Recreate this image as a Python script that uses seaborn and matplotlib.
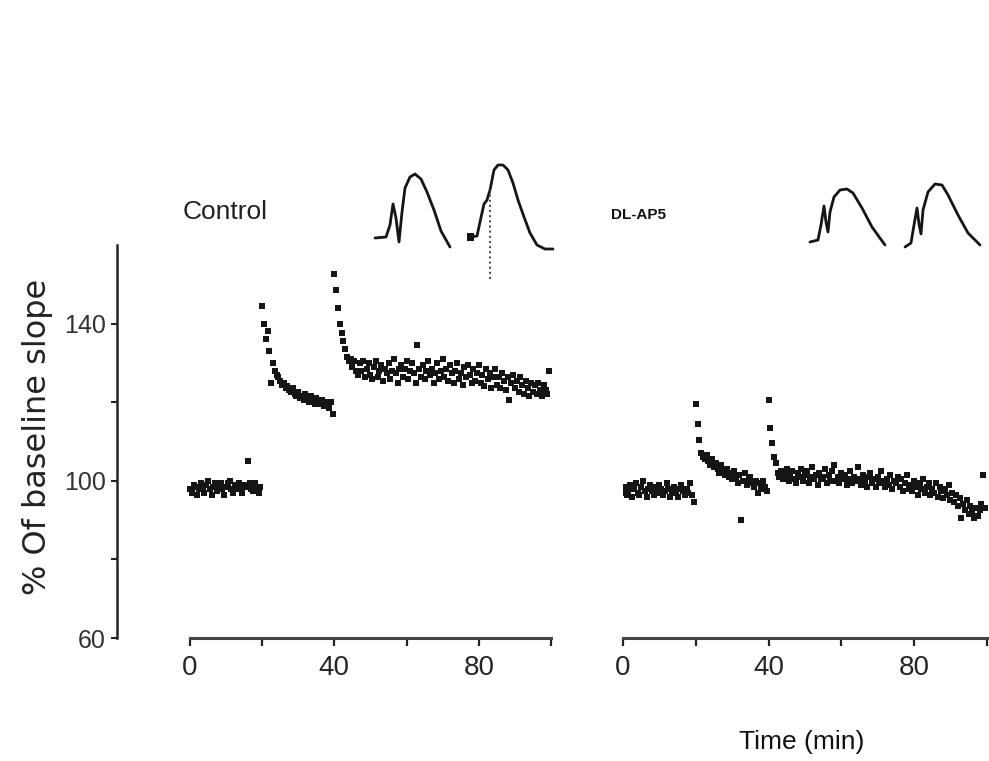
import numpy as np
import pandas as pd
import seaborn as sns
import matplotlib.pyplot as plt
from matplotlib import font_manager as fm
from matplotlib.ticker import FixedLocator, NullFormatter

ctrl_base = [98.0, 97.0, 99.0, 98.5, 96.5, 98.0, 99.5, 98.5, 97.0, 99.0,
             100.0, 98.0, 96.5, 98.5, 99.5, 97.5, 98.5, 99.5, 98.0, 96.5,
             98.5, 99.5, 100.0, 98.0, 97.0, 99.0, 98.0, 99.5, 98.5, 97.0,
             99.0, 98.5, 105.0, 99.5, 98.0, 97.5, 99.5, 98.5, 97.0, 98.5]
ctrl_tet1 = [144.5, 140.0, 136.0, 138.0, 133.0, 125.0, 130.0, 128.0, 127.0, 126.5,
             125.5, 124.5, 125.0, 123.5, 124.0, 123.0, 122.5, 123.5, 122.0, 121.5,
             122.5, 121.0, 121.5, 120.5, 122.0, 121.0, 120.0, 121.5, 120.5, 119.5,
             121.0, 120.0, 119.5, 120.5, 119.0, 120.0, 119.5, 118.5, 120.0, 117.0]
ctrl_tet2 = [152.5, 148.5, 144.0, 140.0, 137.5, 135.5, 133.5, 131.5, 130.5, 131.0,
             129.0, 130.5, 128.0, 127.0, 130.0, 128.0, 130.5, 126.5, 128.5, 130.0,
             127.0, 126.0, 129.0, 130.5, 126.5, 128.0, 129.5, 125.5, 128.5, 127.5,
             130.0, 126.0, 128.0, 131.0, 127.5, 125.0, 128.5, 129.5, 126.5, 128.5,
             130.5, 126.0, 128.0, 130.0, 127.5, 125.0, 134.5, 128.5, 126.5, 129.5,
             126.0, 128.0, 130.5, 127.0, 128.5, 125.0, 127.5, 130.0, 126.0, 128.0,
             131.0, 126.5, 128.5, 125.5, 129.5, 127.5, 125.0, 128.0, 130.0, 126.0,
             127.5, 124.5, 129.0, 126.5, 129.5, 127.0, 125.0, 128.5, 125.5, 127.5,
             129.5, 125.0, 127.0, 124.0, 128.5, 126.0, 127.5, 123.5, 126.5, 128.5,
             124.5, 126.5, 123.5, 127.5, 125.5, 123.0, 126.5, 120.5, 125.0, 127.0,
             123.5, 125.5, 122.5, 126.5, 124.5, 122.0, 125.5, 123.5, 121.5, 125.0,
             122.5, 124.5, 122.0, 125.0, 123.0, 121.5, 124.5, 123.0, 122.0, 128.0]

ap5_base = [97.0, 98.5, 96.5, 97.5, 99.0, 96.0, 98.0, 99.5, 97.0, 96.5,
            98.5, 100.0, 97.5, 96.0, 98.0, 99.0, 97.5, 96.5, 98.5, 97.0,
            99.0, 98.0, 96.5, 97.5, 99.5, 98.0, 96.0, 97.5, 98.5, 97.0,
            96.0, 98.0, 99.0, 97.5, 96.5, 98.0, 97.0, 99.5, 96.5, 94.5]
ap5_tet1 = [119.5, 114.5, 110.5, 107.0, 106.0, 105.5, 106.5, 105.0, 104.0, 105.5,
            103.5, 104.5, 103.0, 102.0, 104.0, 102.5, 101.5, 103.0, 101.0, 102.0,
            100.5, 102.5, 101.0, 99.5, 101.5, 90.0, 100.0, 102.0, 99.0, 100.5,
            101.0, 99.5, 98.5, 100.0, 97.0, 99.5, 98.0, 100.0, 98.5, 97.5]
ap5_tet2 = [120.5, 113.5, 109.5, 106.0, 104.5, 102.0, 101.0, 102.5, 100.5, 101.5,
            103.0, 100.0, 101.5, 102.5, 100.5, 99.5, 102.0, 101.0, 103.0, 100.0,
            101.5, 102.5, 99.5, 101.0, 103.5, 100.5, 101.5, 99.0, 102.0, 100.5,
            101.0, 103.0, 99.5, 101.5, 100.0, 102.5, 104.0, 100.0, 101.0, 99.5,
            102.0, 100.5, 101.5, 99.0, 100.5, 102.5, 99.5, 101.0, 100.0, 103.5,
            100.5, 99.0, 101.5, 100.0, 98.5, 101.0, 102.0, 99.5, 100.5, 98.5,
            101.0, 99.5, 102.5, 100.0, 98.5, 100.5, 99.0, 101.5, 98.0, 100.0,
            99.5, 101.0, 98.5, 100.5, 97.5, 99.5, 101.5, 98.0, 99.0, 97.5,
            100.0, 98.5, 96.5, 99.5, 98.0, 100.5, 97.0, 98.5, 99.5, 96.5,
            98.0, 97.0, 99.5, 96.0, 98.5, 97.5, 95.5, 98.0, 96.5, 99.0,
            95.0, 97.0, 94.5, 96.5, 93.5, 95.5, 90.5, 94.0, 92.5, 95.0,
            91.5, 93.5, 92.0, 90.5, 93.0, 91.0, 92.5, 94.0, 101.5, 93.0]

time_min = np.arange(0, 100, 0.5)

# field potential traces (ms, mV) drawn above each panel
ctrl_pre_t = [0.3, 1.4, 1.8, 2.1, 2.4, 2.7, 3.0, 3.3, 3.8, 4.3, 4.9, 5.5, 6.2, 6.9, 7.8]
ctrl_pre_v = [1.7, 1.8, 3.0, 5.1, 3.7, 1.3, 4.3, 6.7, 7.8, 8.1, 7.6, 6.3, 4.5, 2.4, 0.8]
ctrl_post_t = [0.3, 1.0, 1.3, 1.7, 2.0, 2.3, 2.7, 3.1, 3.6, 4.1, 4.6, 5.1, 5.7, 6.3, 7.0, 7.8, 8.6]
ctrl_post_v = [1.8, 1.9, 3.3, 5.1, 5.5, 6.5, 8.5, 9.0, 9.0, 8.5, 7.2, 5.5, 3.8, 2.2, 1.0, 0.6, 0.6]
probe_t = [2.3, 2.3]
probe_v = [-2.4, 6.5]
ap5_pre_t = [0.5, 1.3, 1.6, 1.9, 2.1, 2.3, 2.5, 2.9, 3.5, 4.2, 4.8, 5.7, 6.7, 8.0]
ap5_pre_v = [1.3, 1.5, 3.0, 4.9, 3.3, 2.3, 4.3, 5.8, 6.5, 6.6, 6.2, 4.7, 2.8, 1.0]
ap5_post_t = [0.5, 1.1, 1.4, 1.7, 1.9, 2.1, 2.3, 2.8, 3.5, 4.2, 4.8, 5.8, 6.8, 8.0]
ap5_post_v = [0.8, 1.2, 3.0, 4.7, 3.1, 2.1, 4.5, 6.3, 7.1, 7.0, 6.0, 4.0, 2.2, 1.0]

ctrl = pd.DataFrame({'time': time_min, 'slope': ctrl_base + ctrl_tet1 + ctrl_tet2})
ap5 = pd.DataFrame({'time': time_min, 'slope': ap5_base + ap5_tet1 + ap5_tet2})

sns.set_style('ticks')
names = {f.name for f in fm.fontManager.ttflist}
narrow = 'Liberation Sans Narrow' if 'Liberation Sans Narrow' in names else 'Liberation Sans'
plt.rcParams['font.family'] = ['Liberation Sans', 'DejaVu Sans']

W, H = 989, 761
fig = plt.figure(figsize=(W / 100, H / 100), dpi=100)

def box(l, t, r, b):
    return [l / W, (H - b) / H, (r - l) / W, (b - t) / H]

ink = '#151515'
axl = fig.add_axes(box(117, 245, 551, 638))
axr = fig.add_axes(box(623, 245, 989, 638))

sns.scatterplot(data=ctrl, x='time', y='slope', ax=axl, marker='s', s=20,
                color=ink, linewidth=0, legend=False)
sns.scatterplot(data=ap5, x='time', y='slope', ax=axr, marker='s', s=20,
                color=ink, linewidth=0, legend=False)

for ax, xlim in [(axl, (-20.2, 100)), (axr, (0, 100.6))]:
    ax.set_xlim(*xlim)
    ax.set_ylim(60, 160)
    ax.set_facecolor('none')
    ax.set_xlabel('')
    ax.set_ylabel('')
    ax.spines['top'].set_visible(False)
    ax.spines['right'].set_visible(False)
    ax.spines['bottom'].set_bounds(0, 100)
    ax.spines['bottom'].set_linewidth(2.2)
    ax.spines['bottom'].set_color('#444444')
    ax.xaxis.set_major_locator(FixedLocator([0, 40, 80]))
    ax.xaxis.set_minor_locator(FixedLocator([20, 60, 100]))
    ax.xaxis.set_minor_formatter(NullFormatter())
    ax.tick_params(axis='x', which='both', bottom=True, direction='out', length=6,
                   width=1.6, color='#222222', pad=6, labelsize=20)
    for lab in ax.get_xticklabels():
        lab.set_fontfamily(narrow)

axl.spines['left'].set_bounds(60, 160)
axl.spines['left'].set_linewidth(1.8)
axl.spines['left'].set_color('#222222')
axl.yaxis.set_major_locator(FixedLocator([60, 100, 140]))
axl.yaxis.set_minor_locator(FixedLocator([80, 120]))
axl.yaxis.set_minor_formatter(NullFormatter())
axl.tick_params(axis='y', which='both', left=True, direction='out', length=4,
                width=1.5, color='#222222', pad=4, labelsize=18, labelcolor='#333333')
axr.spines['left'].set_visible(False)
axr.set_yticks([])

# traces
traces = [
    ((372, 155, 462, 280), ctrl_pre_t, ctrl_pre_v),
    ((467, 155, 557, 280), ctrl_post_t, ctrl_post_v),
    ((805, 155, 895, 280), ap5_pre_t, ap5_pre_v),
    ((900, 155, 989, 280), ap5_post_t, ap5_post_v),
]
for (l, t, r, b), tx, ty in traces:
    ins = fig.add_axes(box(l, t, r, b))
    sns.lineplot(x=tx, y=ty, ax=ins, sort=False, estimator=None,
                 color=ink, linewidth=2.0)
    ins.set_xlim(0, (r - l) / 10)
    ins.set_ylim(-2.5, 10)
    ins.axis('off')
    if l == 467:
        sns.lineplot(x=probe_t, y=probe_v, ax=ins, sort=False, estimator=None,
                     color='#444444', linewidth=1.4, linestyle=':')
        sns.scatterplot(x=ctrl_post_t[:1], y=ctrl_post_v[:1], ax=ins, marker='s',
                        s=40, color=ink, linewidth=0, legend=False)

fig.text(38 / W, 1 - 437 / H, '% Of baseline slope', rotation=90, ha='center',
         va='center', fontsize=23, color='#222222', family=['DejaVu Sans'])
fig.text(183 / W, 1 - 212 / H, 'Control', ha='left', va='center', fontsize=19,
         color='#222222')
fig.text(611 / W, 1 - 215 / H, 'DL-AP5', ha='left', va='center', fontsize=11,
         fontweight='bold', color='#111111', family=[narrow])
fig.text(802 / W, 1 - 742 / H, 'Time (min)', ha='center', va='center', fontsize=19,
         color='#111111', family=[narrow])

fig.savefig('out.png', dpi=100)
